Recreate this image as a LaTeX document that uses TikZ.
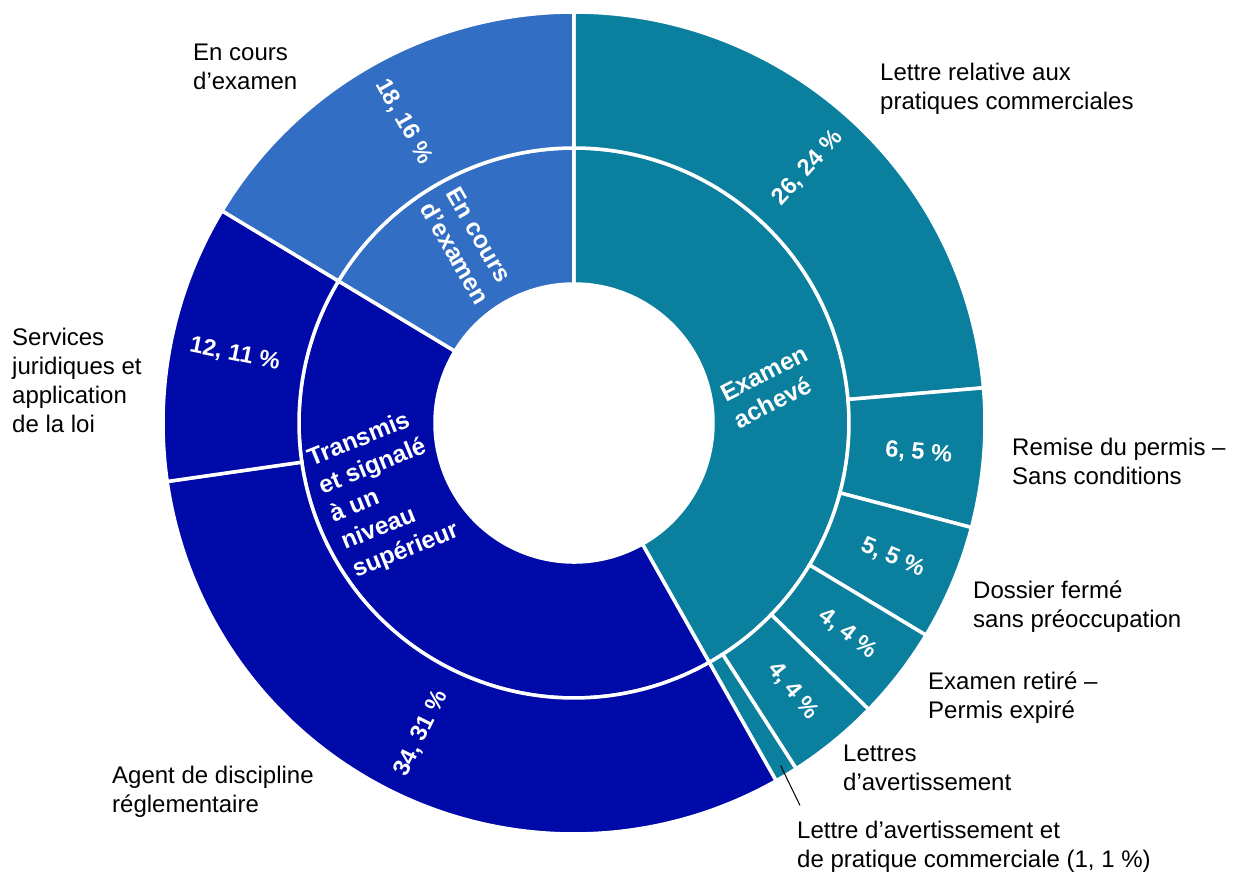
\documentclass[tikz,border=0pt]{standalone}
\usepackage{fontspec}
\setmainfont{Liberation Sans}
\definecolor{acheve}{RGB}{11,127,158}
\definecolor{transmis}{RGB}{0,10,168}
\definecolor{encours}{RGB}{50,110,196}
\tikzset{
  part/.style={draw=white,line width=3.5pt},
  val/.style={text=white,font=\bfseries\fontsize{23.5}{27}\selectfont,inner sep=0pt},
  cat/.style={text=white,font=\bfseries\fontsize{24.5}{30}\selectfont,align=left,inner sep=0pt},
  lab/.style={font=\fontsize{24}{29}\selectfont,align=left,anchor=north west,inner sep=0pt}
}
% one piece of a ring: colour, inner radius, outer radius, from, to (out of 110)
\newcommand{\piece}[5]{%
  \pgfmathsetmacro{\angA}{90-#4/110*360}
  \pgfmathsetmacro{\angB}{90-#5/110*360}
  \filldraw[part,fill=#1] (\angA:#2) arc[start angle=\angA,end angle=\angB,radius=#2]
    -- (\angB:#3) arc[start angle=\angB,end angle=\angA,radius=#3] -- cycle;
}
\begin{document}
\begin{tikzpicture}[x=1pt,y=1pt]
  \useasboundingbox (-574,-450) rectangle (666,423);
  % inner ring
  \piece{acheve}{139}{275}{0}{46}
  \piece{transmis}{139}{275}{46}{92}
  \piece{encours}{139}{275}{92}{110}
  % outer ring
  \foreach \s/\e/\col in {0/26/acheve,26/32/acheve,32/37/acheve,37/41/acheve,41/45/acheve,
      45/46/acheve,46/80/transmis,80/92/transmis,92/110/encours}
    {\piece{\col}{275}{411}{\s}{\e}}
  % values
  \foreach \s/\e/\v in {0/26/{26, 24 \%},26/32/{6, 5 \%},32/37/{5, 5 \%},37/41/{4, 4 \%},
      41/45/{4, 4 \%},46/80/{34, 31 \%},80/92/{12, 11 \%},92/110/{18, 16 \%}}
    {\pgfmathsetmacro{\mid}{90-(\s+\e)/220*360}
     \pgfmathsetmacro{\rot}{ifthenelse(\mid<-90,\mid+180,\mid)}
     \node[val,rotate=\rot] (v\s) at (\mid:346) {\v};}
  % inner labels
  \node[cat,rotate=-60] (ec) at (-106,177) {En cours\\d’examen};
  \node[cat,rotate=27] (ea) at (197,36) {Examen\\achevé};
  \node[cat,rotate=22] (ts) at (-190,-72) {Transmis\\et signalé\\à un\\niveau\\supérieur};
  % outer labels
  \node[lab] (encl) at (-381,379.5) {En cours\\d’examen};
  \node[lab] (lrpc) at (306,360.5) {Lettre relative aux\\pratiques commerciales};
  \node[lab] (sjal) at (-562,95.5) {Services\\juridiques et\\application\\de la loi};
  \node[lab] (rdp) at (438,-14.5) {Remise du permis –\\Sans conditions};
  \node[lab] (dfsp) at (399,-157.5) {Dossier fermé\\sans préoccupation};
  \node[lab] (erpe) at (354,-248.5) {Examen retiré –\\Permis expiré};
  \node[lab] (lav) at (269,-321.5) {Lettres\\d’avertissement};
  \node[lab] (adr) at (-462,-342.5) {Agent de discipline\\réglementaire};
  \node[lab] (avpc) at (223,-397.5) {Lettre d’avertissement et\\de pratique commerciale (1, 1 \%)};
  \coordinate (tip) at (-58.9:400);
  \draw[line width=1pt] (tip) -- ([shift={(3,15)}]avpc.north west);
\end{tikzpicture}
\end{document}
